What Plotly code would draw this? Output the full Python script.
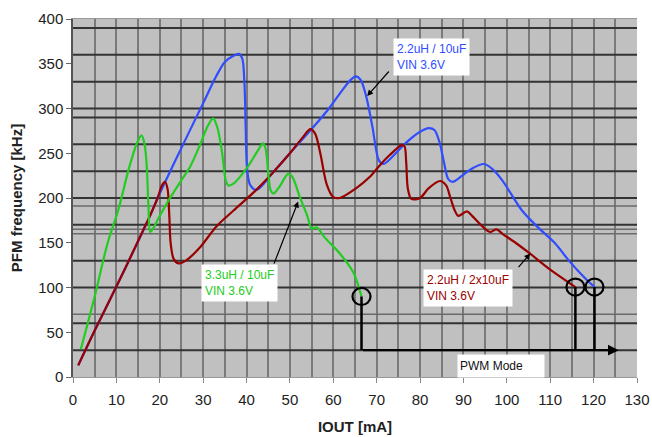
import plotly.graph_objects as go

# PFM switching frequency versus output current for three L/C combinations (VIN 3.6 V)
iout_22u_10u = [1.2, 5, 10, 17, 20, 25, 30, 33, 35, 37, 38.2, 39.0, 39.5, 39.8, 40.1, 40.8, 42.3,
                46, 50, 55, 59, 62, 64, 65.2, 66.3, 67.5, 69, 70.5, 71.5, 74, 76.6, 80, 82, 83.3,
                84.5, 85.5, 86.5, 87.5, 89.7, 92, 94.7, 96.5, 98.9, 103.5, 107, 111.2, 114.3, 118.1, 120.2]
freq_22u_10u = [13, 52, 101, 172, 205, 256, 306, 336, 352, 359, 361, 356, 330, 280, 235, 215, 209,
                228, 250, 277, 300, 320, 332, 336, 332, 315, 280, 242, 238, 248, 261, 274, 278, 276,
                262, 240, 221, 218, 225, 233, 238, 233, 220, 186, 168, 149, 130, 110, 100.5]

iout_22u_2x10u = [1.2, 5, 10, 15, 18, 19.5, 20.5, 21.2, 21.8, 22.2, 22.5, 23.2, 24.3, 26, 29.3, 33, 37,
                  42, 46, 50, 53, 54.7, 55.8, 57, 58.5, 60, 61.5, 65, 68.5, 70.8, 73, 75.8, 76.4, 76.8,
                  77.2, 78, 80, 82, 84.6, 86, 87, 88, 88.8, 90.8, 92, 94, 96.1, 97.6, 99, 102, 105.3,
                  110, 115.8]
freq_22u_2x10u = [13, 52, 101, 152, 183, 200, 214, 218, 210, 180, 150, 132, 127, 130, 145, 168, 186,
                  208, 228, 250, 268, 277, 272, 250, 215, 201, 200, 210, 224, 237, 248, 259, 258, 240,
                  210, 199, 200, 211, 219, 214, 200, 186, 180, 185, 180, 170, 162, 165, 160, 150, 138,
                  120, 100.5]

iout_33u_10u = [1.8, 5, 8, 10.4, 13, 14.8, 15.8, 16.5, 17, 17.4, 17.8, 18.5, 20, 22, 25, 27, 29.5, 31,
                32.3, 33.2, 34.3, 35.2, 35.8, 37, 40, 42.5, 43.8, 44.4, 45, 45.6, 46.2, 47.5, 49.6,
                50.5, 52.3, 54, 55, 56.2, 58, 61.5, 64.6, 66.5]
freq_33u_10u = [31, 90, 150, 186, 235, 262, 270, 260, 235, 190, 162, 166, 180, 197, 220, 235, 262, 280,
                289, 280, 253, 220, 214, 216, 233, 252, 261, 255, 228, 208, 205, 212, 227,
                224, 201, 180, 166, 167, 156, 138, 117, 90]

# horizontal rulings of the chart background (kHz); second list drawn lighter
rule_dark = [30, 60, 100, 130, 170, 200, 230, 260, 290, 300, 330, 360, 390]
rule_light = [70, 160, 165, 191]

pwm_level = 30          # kHz level of the PWM-mode bracket
pwm_arrow_end = 125.8   # mA

x_ticks = list(range(0, 131, 10))
y_ticks = list(range(0, 401, 50))

BLUE = "#2f4dff"
GREEN = "#22cc22"
RED = "#990000"
FONT = "Liberation Sans, Arial, sans-serif"

series = [
    (iout_22u_10u, freq_22u_10u, BLUE, "2.2uH / 10uF"),
    (iout_22u_2x10u, freq_22u_2x10u, RED, "2.2uH / 2x10uF"),
    (iout_33u_10u, freq_33u_10u, GREEN, "3.3uH / 10uF"),
]

fig = go.Figure()
for xs, ys, col, name in series:
    fig.add_trace(go.Scatter(x=xs, y=ys, mode="lines", name=name,
                             line=dict(color=col, width=2.2, shape="spline", smoothing=0.9),
                             showlegend=False, hoverinfo="skip"))

shapes = []
for v in rule_dark:
    shapes.append(dict(type="line", xref="x", yref="y", x0=0, x1=130, y0=v, y1=v,
                       line=dict(color="#333333", width=2), layer="between"))
for v in rule_light:
    shapes.append(dict(type="line", xref="x", yref="y", x0=0, x1=130, y0=v, y1=v,
                       line=dict(color="#6a6a6a", width=1.5), layer="between"))

# end-of-PFM markers: circle at each curve end, dropped to the PWM bracket
for xs, ys, col, name in series:
    xe, ye = xs[-1], ys[-1]
    shapes.append(dict(type="circle", xref="x", yref="y", xsizemode="pixel", ysizemode="pixel",
                       xanchor=xe, yanchor=ye, x0=-9, x1=9, y0=-8.5, y1=8.5,
                       line=dict(color="black", width=2.2), layer="above"))
    shapes.append(dict(type="line", xref="x", yref="y", x0=xe, x1=xe, y0=ye, y1=pwm_level,
                       line=dict(color="black", width=2.5), layer="above"))

annotations = [
    # PWM bracket arrow
    dict(x=pwm_arrow_end, y=pwm_level, ax=iout_33u_10u[-1], ay=pwm_level, axref="x", ayref="y",
         xref="x", yref="y", text="", showarrow=True, arrowhead=2, arrowsize=0.9,
         arrowwidth=2.4, arrowcolor="black", standoff=0, startstandoff=0),
    dict(x=88.4, y=26.2, xref="x", yref="y", xanchor="left", yanchor="top",
         text="PWM Mode", showarrow=False, align="left", width=82, height=18,
         bgcolor="white", font=dict(family=FONT, size=12, color="#111111"), borderpad=2),
    # series labels
    dict(x=73.8, y=379, xref="x", yref="y", xanchor="left", yanchor="top",
         text="2.2uH / 10uF<br>VIN 3.6V", showarrow=False, align="left",
         bgcolor="white", font=dict(family=FONT, size=12, color=BLUE), borderpad=3),
    dict(x=29.6, y=126.8, xref="x", yref="y", xanchor="left", yanchor="top",
         text="3.3uH / 10uF<br>VIN 3.6V", showarrow=False, align="left",
         bgcolor="white", font=dict(family=FONT, size=12, color=GREEN), borderpad=3),
    dict(x=80.6, y=121.2, xref="x", yref="y", xanchor="left", yanchor="top",
         text="2.2uH / 2x10uF<br>VIN 3.6V", showarrow=False, align="left",
         bgcolor="white", font=dict(family=FONT, size=12, color=RED), borderpad=3),
    # pointers from labels to curves
    dict(x=67.8, y=314, ax=73.1, ay=343, axref="x", ayref="y", xref="x", yref="y", text="",
         showarrow=True, arrowhead=2, arrowsize=1, arrowwidth=1.2, arrowcolor="black"),
    dict(x=51.9, y=196, ax=46.2, ay=125, axref="x", ayref="y", xref="x", yref="y", text="",
         showarrow=True, arrowhead=2, arrowsize=1, arrowwidth=1.2, arrowcolor="black"),
    dict(x=105.4, y=138, ax=102.4, ay=121, axref="x", ayref="y", xref="x", yref="y", text="",
         showarrow=True, arrowhead=2, arrowsize=1, arrowwidth=1.2, arrowcolor="black"),
]

fig.update_layout(
    width=652, height=437,
    margin=dict(l=73, r=15, t=19, b=60, autoexpand=False),
    paper_bgcolor="white", plot_bgcolor="#c0c0c0",
    font=dict(family=FONT, size=15, color="#222222"),
    shapes=shapes, annotations=annotations,
    xaxis=dict(range=[0, 130], tickvals=x_ticks, showgrid=True, gridcolor="#7a7a7a", gridwidth=1.5,
               minor=dict(dtick=5, showgrid=True, gridcolor="#7a7a7a", gridwidth=1.5),
               ticks="outside", ticklen=5, tickcolor="#888888", showline=True, linecolor="#999999",
               linewidth=1, zeroline=False, mirror=True, ticklabelstandoff=4, automargin=False,
               title=dict(text="<b>IOUT [mA]</b>", font=dict(size=15, color="#222222"), standoff=14)),
    yaxis=dict(range=[0, 400], tickvals=y_ticks, showgrid=False,
               ticks="outside", ticklen=5, tickcolor="#666666", showline=True, linecolor="#555555",
               linewidth=1.5, zeroline=False, automargin=False,
               title=dict(text="<b>PFM frequency [kHz]</b>", font=dict(size=15, color="#222222"),
                          standoff=12)),
)

fig.write_html("out.html")
